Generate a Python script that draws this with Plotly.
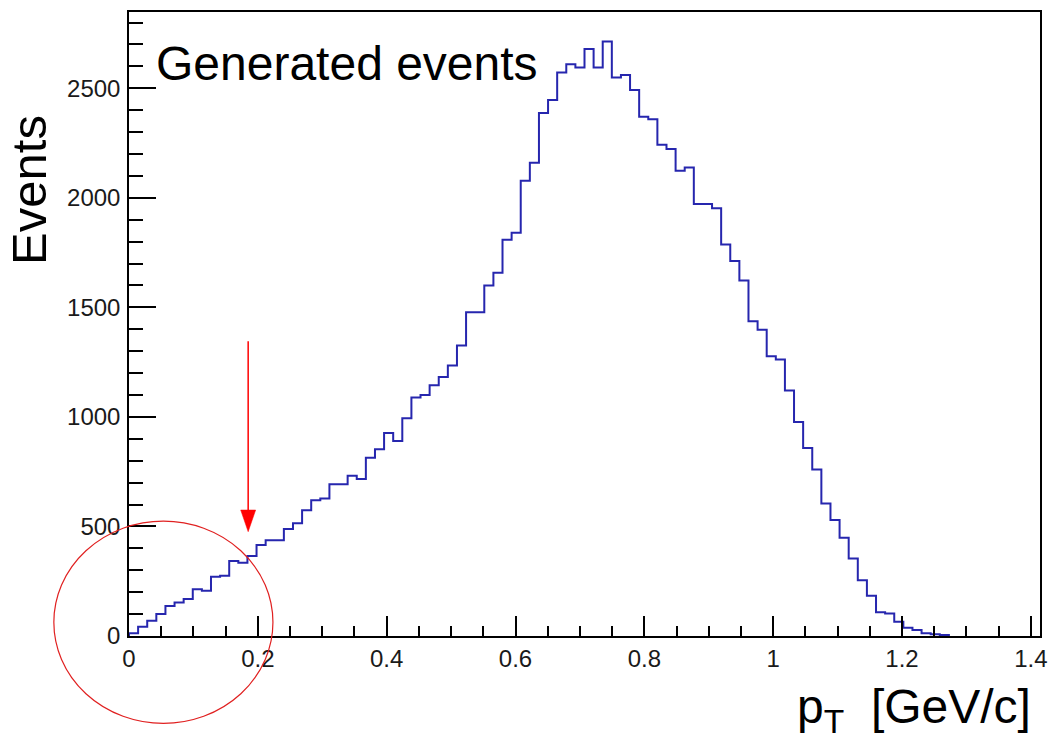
import numpy as np
import plotly.graph_objects as go

# Histogram binning: 100 bins on [0, sqrt(2)] GeV/c
PT_MIN = 0.0
PT_MAX = 1.4142
N_BINS = 100

# Generated-event counts per pT bin (bins beyond the last entry are empty)
counts = [
    12, 42, 70, 100, 137, 153, 169, 213, 207, 270,
    275, 342, 334, 365, 415, 437, 437, 488, 515, 574,
    620, 628, 693, 693, 731, 717, 814, 852, 927, 890,
    994, 1089, 1100, 1144, 1182, 1235, 1326, 1478, 1478, 1600,
    1658, 1808, 1841, 2078, 2160, 2387, 2446, 2572, 2610, 2595,
    2679, 2595, 2713, 2549, 2560, 2492, 2370, 2358, 2242, 2223,
    2123, 2138, 1972, 1972, 1952, 1787, 1711, 1623, 1436, 1398,
    1277, 1262, 1121, 977, 858, 760, 605, 529, 448, 354,
    255, 184, 108, 103, 65, 38, 27, 12, 8, 5,
]

x_tick_vals = [0, 0.2, 0.4, 0.6, 0.8, 1.0, 1.2, 1.4]
x_tick_text = ["0", "0.2", "0.4", "0.6", "0.8", "1", "1.2", "1.4"]
y_tick_vals = [0, 500, 1000, 1500, 2000, 2500]
y_tick_text = ["0", "500", "1000", "1500", "2000", "2500"]

Y_MAX = 2848

# Marker for the pT cut: arrow at pT = 0.185, and the low-pT region circled
cut_pt = 0.185

FONT = "Liberation Sans, Arial, sans-serif"
HIST_COLOR = "#2626ae"

edges = np.linspace(PT_MIN, PT_MAX, N_BINS + 1)
n = len(counts)
x_line = [PT_MIN] + list(edges[:n]) + [edges[n]]
y_line = [0] + list(counts) + [0]

fig = go.Figure()
fig.add_trace(go.Scatter(
    x=x_line, y=y_line, mode="lines",
    line=dict(color=HIST_COLOR, width=2, shape="hv"),
    hoverinfo="skip", showlegend=False,
))

axis_common = dict(
    showgrid=False, zeroline=False,
    showline=True, linecolor="black", linewidth=1.5, mirror=True,
    ticks="inside", tickcolor="black", tickwidth=1.5,
    tickfont=dict(family=FONT, size=24, color="#1a1a1a"),
)

fig.update_xaxes(
    range=[PT_MIN, PT_MAX],
    tickvals=x_tick_vals, ticktext=x_tick_text,
    ticklen=20,
    minor=dict(dtick=0.05, tick0=0, ticks="inside", ticklen=10,
               tickcolor="black", tickwidth=1.5),
    **axis_common,
)
fig.update_yaxes(
    range=[0, Y_MAX],
    tickvals=y_tick_vals, ticktext=y_tick_text,
    ticklen=27,
    ticklabelstandoff=2,
    minor=dict(dtick=100, tick0=0, ticks="inside", ticklen=14,
               tickcolor="black", tickwidth=1.5),
    **axis_common,
)

# Circle around the low-pT region
fig.add_shape(
    type="circle", xref="paper", yref="paper",
    x0=-0.0825, x1=0.158, y0=-0.140, y1=0.184,
    line=dict(color="#e02020", width=1.2),
)
# Arrow pointing at the cut value
fig.add_shape(
    type="line", xref="x", yref="y",
    x0=cut_pt, x1=cut_pt, y0=1345, y1=560,
    line=dict(color="#ff0000", width=1.5),
)
half_w = 0.0116
fig.add_shape(
    type="path", xref="x", yref="y",
    path=f"M {cut_pt - half_w},575 L {cut_pt + half_w},575 L {cut_pt},476 Z",
    fillcolor="#ff0000", line=dict(color="#ff0000", width=0.5),
)

fig.add_annotation(
    text="Generated events", xref="paper", yref="paper",
    x=0.027, y=0.918, xanchor="left", yanchor="middle",
    showarrow=False, font=dict(family=FONT, size=48, color="black"),
)
fig.add_annotation(
    text="Events", xref="paper", yref="paper",
    x=-0.110, y=0.838, xanchor="center", yanchor="top", textangle=-90,
    showarrow=False, font=dict(family=FONT, size=49, color="black"),
)
fig.add_annotation(
    text="p<sub>T</sub>\u00a0\u00a0[GeV/c]", xref="paper", yref="paper",
    x=0.9925, y=-0.118, xanchor="right", yanchor="middle",
    showarrow=False, font=dict(family=FONT, size=48, color="black"),
)

fig.update_layout(
    width=1054, height=738,
    margin=dict(l=129, r=7, t=12, b=102, pad=0),
    paper_bgcolor="white", plot_bgcolor="white",
    showlegend=False,
)

fig.write_html("out.html")
